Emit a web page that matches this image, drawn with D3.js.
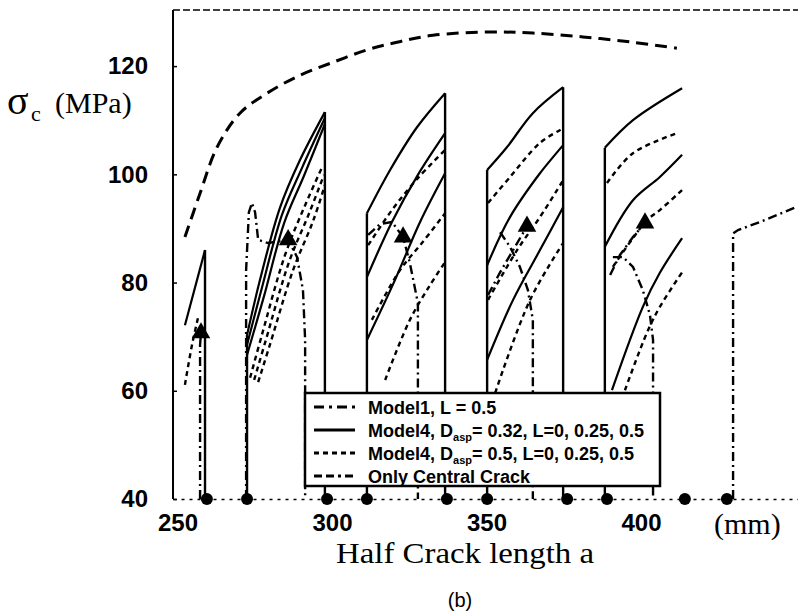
<!DOCTYPE html>
<html>
<head>
<meta charset="utf-8">
<script src="https://cdn.jsdelivr.net/npm/d3@7"></script>
<style>
  body { margin: 0; background: #fff; }
  .tick text { font-family: "Liberation Sans", Arial, sans-serif; font-weight: bold; font-size: 24px; fill: #000; }
  .serif { font-family: "Liberation Serif", "Times New Roman", serif; fill: #000; }
  .legend { font-family: "Liberation Sans", Arial, sans-serif; font-weight: bold; font-size: 18px; fill: #000; }
</style>
</head>
<body>
<div id="chart"></div>
<script>
// ---- data (a in mm, sigma_c in MPa) ----
const xTicks = [250, 300, 350, 400];
const yTicks = [40, 60, 80, 100, 120];

// only central crack (long dashes across the top)
const centralCrack = [[252.4,88.4],[257.3,96.5],[262.8,105.0],[270.2,111.3],[279.0,115.0],[289.6,118.3],[300.3,120.7],[311.3,123.0],[321.0,124.4],[332.7,125.7],[351.1,126.3],[365.0,126.1],[381.2,125.4],[397.4,124.4],[411.6,123.3]];

// Model4, Dasp = 0.32 (solid), L = 0, 0.25, 0.5 in each interval
const model4a = [
  [[252.4,72.1],[258.9,86.0]],
  [[272.5,70.3],[276.7,80.5],[283.2,93.9],[289.6,102.6],[297.7,111.5]],
  [[272.5,68.5],[277.3,79.0],[283.8,92.5],[290.3,101.2],[297.7,110.4]],
  [[272.5,66.6],[278.0,77.5],[284.5,91.0],[290.9,99.7],[297.7,109.3]],
  [[311.3,92.8],[318.8,100.8],[327.5,108.7],[336.6,115.0]],
  [[311.3,81.0],[319.4,91.2],[327.8,99.9],[336.6,107.6]],
  [[311.3,69.4],[320.4,80.5],[328.5,91.2],[336.6,100.2]],
  [[350.2,100.8],[356.6,105.0],[365.0,111.3],[374.8,116.1]],
  [[350.2,83.2],[357.6,92.1],[367.3,100.2],[374.8,105.4]],
  [[350.2,65.7],[358.6,76.8],[367.3,86.0],[374.8,93.9]],
  [[388.3,104.9],[397.4,110.0],[413.3,115.9]],
  [[388.3,86.6],[397.4,95.2],[406.1,99.5],[413.3,103.6]],
  [[390.6,60.1],[400.6,75.5],[406.1,81.8],[413.3,88.2]]
];

// link-up jumps (vertical solid lines): position and top value
const linkX = [258.9, 272.5, 297.7, 311.3, 336.6, 350.2, 374.8, 388.3];
const linkTop = [86.0, 70.3, 111.5, 92.8, 115.0, 100.8, 116.1, 104.9];

// Model4, Dasp = 0.5 (short dashes)
const model4b = [
  [[252.4,61.1],[254.7,68.5],[256.6,73.4]],
  [[273.5,62.4],[277.3,70.3],[284.8,85.1],[291.3,94.3],[297.1,101.7]],
  [[274.8,62.0],[278.6,69.4],[286.1,83.8],[292.6,92.8],[297.4,99.9]],
  [[276.1,61.6],[279.9,68.5],[287.4,82.3],[293.9,91.4],[297.7,98.0]],
  [[311.7,86.9],[319.4,93.4],[327.8,99.3],[336.6,104.5]],
  [[312.9,73.1],[322.0,82.3],[329.1,87.3],[336.6,92.8]],
  [[317.2,62.0],[325.2,73.1],[331.7,79.5],[336.6,83.8]],
  [[350.5,94.7],[357.6,99.5],[367.3,105.8],[374.8,108.5]],
  [[350.5,76.8],[359.9,86.0],[367.3,92.1],[374.8,98.9]],
  [[352.8,59.6],[364.1,76.8],[374.8,87.3]],
  [[389.0,98.4],[397.4,103.9],[411.6,107.6]],
  [[390.9,82.9],[401.9,91.5],[406.1,93.4],[413.3,97.1]],
  [[394.8,60.1],[401.9,70.7],[406.1,75.5],[413.3,81.9]]
];

// Model1, L = 0.5 (dash-dot)
const model1 = [
  [[257.3,40],[257.3,68.5],[257.6,70.7]],
  [[272.2,40],[272.2,82.3],[273.1,93.0],[274.1,94.7],[275.1,93.0],[276.1,87.9],[279.3,87.3],[285.8,87.9],[288.7,84.7],[290.6,78.6],[291.3,69.4],[291.3,40]],
  [[311.7,88.8],[315.5,90.8],[319.4,91.2],[323.0,88.4],[325.2,83.6],[327.8,76.2],[327.8,40]],
  [[350.5,77.7],[354.4,81.9],[358.6,86.0],[363.1,90.4]],
  [[354.4,89.3],[357.6,86.6],[360.8,82.9],[363.4,78.6],[365.0,73.1],[365.0,40]],
  [[390.0,81.4],[393.2,85.1],[397.4,88.4],[401.3,91.0]],
  [[390.9,84.7],[394.2,84.7],[397.4,82.9],[400.6,78.6],[402.9,74.0],[403.9,69.4],[403.9,40]],
  [[429.8,40],[429.8,89.1],[431.4,89.7],[438.5,91.2],[450.5,94.0]]
];
const peakX = [257.6, 285.8, 323.0, 363.1, 401.3];
const peakY = [70.7, 87.9, 88.4, 90.4, 91.0];

// marks along the a axis
const axisDots = [259.5, 272.5, 298.4, 311.3, 337.2, 350.2, 376.1, 389.0, 414.2, 427.8];

const legendLabels = ["Model1, L = 0.5", "Model4, D|asp|= 0.32, L=0, 0.25, 0.5", "Model4, D|asp|= 0.5, L=0, 0.25, 0.5", "Only Central Crack"];
const legendDash = ["10,5,3,5", null, "5,4", "8,4,8,4,3,4"];

// ---- layout ----
const margin = { top: 12, right: 0, bottom: 117, left: 173 };
const width = 798 - margin.left - margin.right;
const height = 616 - margin.top - margin.bottom;

const svgRoot = d3.select("#chart").append("svg")
    .attr("width", 798).attr("height", 616);
const svg = svgRoot.append("g")
    .attr("transform", `translate(${margin.left}, ${margin.top})`);

const x = d3.scaleLinear().domain([248.54, 450.81]).range([0, width]);
const y = d3.scaleLinear().domain([40, 130]).range([height, 0]);

const smooth = d3.line().x(d => x(d[0])).y(d => y(d[1])).curve(d3.curveCatmullRom.alpha(0.5));
const straight = d3.line().x(d => x(d[0])).y(d => y(d[1]));

// frame: left solid, top broken
svg.append("line").attr("x1", 0).attr("x2", 0).attr("y1", -2).attr("y2", height)
    .attr("stroke", "#000").attr("stroke-width", 2);
svg.append("line").attr("x1", 0).attr("x2", width).attr("y1", -2).attr("y2", -2)
    .attr("stroke", "#000").attr("stroke-width", 1.5).attr("stroke-dasharray", "7,3");

// central crack
svg.append("path").attr("d", smooth(centralCrack))
    .attr("fill", "none").attr("stroke", "#000").attr("stroke-width", 3)
    .attr("stroke-dasharray", "12,7");

// model4 solid
svg.append("g").selectAll("path").data(model4a).join("path")
    .attr("d", smooth).attr("fill", "none").attr("stroke", "#000").attr("stroke-width", 2.2);

// link-up verticals
svg.append("g").selectAll("line").data(linkX).join("line")
    .attr("x1", d => x(d)).attr("x2", d => x(d))
    .attr("y1", (d, i) => y(linkTop[i])).attr("y2", y(40))
    .attr("stroke", "#000").attr("stroke-width", 2.4);

// model4 dashed
svg.append("g").selectAll("path").data(model4b).join("path")
    .attr("d", smooth).attr("fill", "none").attr("stroke", "#000").attr("stroke-width", 2.4)
    .attr("stroke-dasharray", "5,4");

// model1 dash-dot
svg.append("g").selectAll("path").data(model1).join("path")
    .attr("d", straight).attr("fill", "none").attr("stroke", "#000").attr("stroke-width", 2.4)
    .attr("stroke-dasharray", "9,4,2,4");

// triangles at model1 peaks
svg.append("g").selectAll("path").data(peakX).join("path")
    .attr("d", d3.symbol(d3.symbolTriangle).size(150))
    .attr("transform", (d, i) => `translate(${x(d)}, ${y(peakY[i])})`)
    .attr("fill", "#000");

// legend
const lg = svg.append("g").attr("transform", `translate(${305 - margin.left}, ${393 - margin.top})`);
lg.append("rect").attr("width", 355).attr("height", 93)
    .attr("fill", "#fff").attr("stroke", "#000").attr("stroke-width", 2.5);
legendLabels.forEach((lab, i) => {
    const yy = 14 + i * 23;
    lg.append("line").attr("x1", 9).attr("x2", 50).attr("y1", yy).attr("y2", yy)
        .attr("stroke", "#000").attr("stroke-width", 3)
        .attr("stroke-dasharray", legendDash[i]);
    const t = lg.append("text").attr("class", "legend").attr("x", 63).attr("y", yy + 6.5);
    const parts = lab.split("|");
    t.append("tspan").text(parts[0]);
    if (parts.length > 1) {
        t.append("tspan").attr("font-size", 11).attr("dy", 4).text(parts[1]);
        t.append("tspan").attr("dy", -4).text(parts[2]);
    }
});

// axes
svg.append("g")
    .call(d3.axisLeft(y).tickValues(yTicks).tickSize(-4).tickPadding(25).tickFormat(d3.format("d")))
    .call(g => g.select(".domain").remove())
    .call(g => g.selectAll(".tick line").attr("stroke", "#000").attr("stroke-width", 1.5));

svg.append("g")
    .attr("transform", `translate(0, ${height})`)
    .call(d3.axisBottom(x).tickValues(xTicks).tickSize(0).tickPadding(15).tickFormat(d3.format("d")))
    .call(g => g.select(".domain").attr("stroke", "#000").attr("stroke-width", 1.5).attr("stroke-dasharray", "3,5"));

svg.append("g").selectAll("circle").data(axisDots).join("circle")
    .attr("cx", d => x(d)).attr("cy", y(40)).attr("r", 6).attr("fill", "#000");

// labels
svgRoot.append("text").attr("class", "serif").attr("x", 7).attr("y", 114)
    .attr("font-size", 40).text("σ");
svgRoot.append("text").attr("class", "serif").attr("x", 31).attr("y", 121)
    .attr("font-size", 22).text("c");
svgRoot.append("text").attr("class", "serif").attr("x", 55).attr("y", 113)
    .attr("font-size", 30).text("(MPa)");

svgRoot.append("text").attr("class", "serif").attr("x", 714).attr("y", 534)
    .attr("font-size", 30).text("(mm)");
svgRoot.append("text").attr("class", "serif").attr("x", 465).attr("y", 563)
    .attr("text-anchor", "middle").attr("font-size", 30)
    .attr("textLength", 258).attr("lengthAdjust", "spacingAndGlyphs").text("Half Crack length a");
svgRoot.append("text").attr("x", 460).attr("y", 607)
    .attr("text-anchor", "middle").attr("font-family", "Liberation Sans, Arial, sans-serif")
    .attr("font-size", 20).text("(b)");
</script>
</body>
</html>
